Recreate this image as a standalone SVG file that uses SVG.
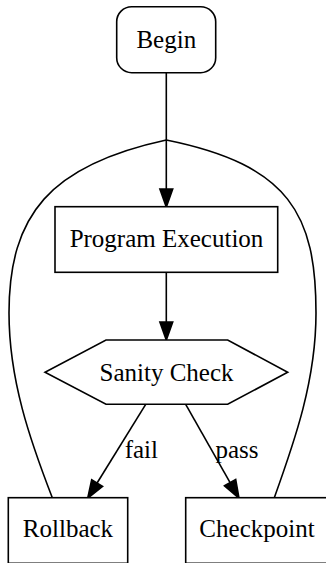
<svg xmlns="http://www.w3.org/2000/svg" width="326" height="563" viewBox="0 0 326 563">
  <style>
    .shape { fill: #ffffff; stroke: #000000; stroke-width: 1.6; }
    .edge { fill: none; stroke: #000000; stroke-width: 1.6; }
    .head { fill: #000000; stroke: #000000; stroke-width: 1.6; }
    text { font-family: "Liberation Serif", "Times New Roman", serif; font-size: 25px; fill: #000000; text-anchor: middle; }
  </style>
  <rect width="326" height="563" fill="#ffffff"/>

  <!-- connectors -->
  <g id="edges">
    <!-- Begin -> Program Execution -->
    <path class="edge" d="M166.3,72.7 L166.3,189"/>
    <polygon class="head" points="159.9,189 172.7,189 166.3,207"/>
    <!-- Rollback / Checkpoint loop back, merged into the same arrow -->
    <path class="edge" d="M52.3,497.7 C30,440 9,380 9,313 C9,215 50,165 166.3,140"/>
    <path class="edge" d="M274.3,497.7 C295,440 316,380 316,313 C316,215 290,165 166.3,140"/>
    <!-- Program Execution -> Sanity Check -->
    <path class="edge" d="M166.3,272.3 L166.3,322"/>
    <polygon class="head" points="159.9,322 172.7,322 166.3,340"/>
    <!-- Sanity Check -> Rollback (fail) -->
    <path class="edge" d="M145.7,404.3 L97.1,483"/>
    <polygon class="head" points="102.6,486.4 91.7,479.7 87.7,498.3"/>
    <text x="141.3" y="458.3">fail</text>
    <!-- Sanity Check -> Checkpoint (pass) -->
    <path class="edge" d="M185.7,404.3 L230.1,482.6"/>
    <polygon class="head" points="224.5,485.8 235.7,479.4 239,498.3"/>
    <text x="237" y="458.3">pass</text>
  </g>

  <g id="begin">
    <rect class="shape" x="116.7" y="6.7" width="99" height="66" rx="15" ry="15"/>
    <text x="166.3" y="47.7">Begin</text>
  </g>

  <g id="program-execution">
    <rect class="shape" x="55" y="206.7" width="222.7" height="65.6"/>
    <text x="166.5" y="246.7">Program Execution</text>
  </g>

  <g id="sanity-check">
    <polygon class="shape" points="106,340 227.7,340 287.7,372.3 227.7,404.3 106,404.3 45,372.3"/>
    <text x="166.5" y="380.5">Sanity Check</text>
  </g>

  <g id="rollback">
    <rect class="shape" x="8.3" y="497.7" width="119.4" height="65.6"/>
    <text x="68" y="536.7">Rollback</text>
  </g>

  <g id="checkpoint">
    <rect class="shape" x="185.7" y="497.7" width="142.6" height="65.6"/>
    <text x="257" y="536.7">Checkpoint</text>
  </g>
</svg>
